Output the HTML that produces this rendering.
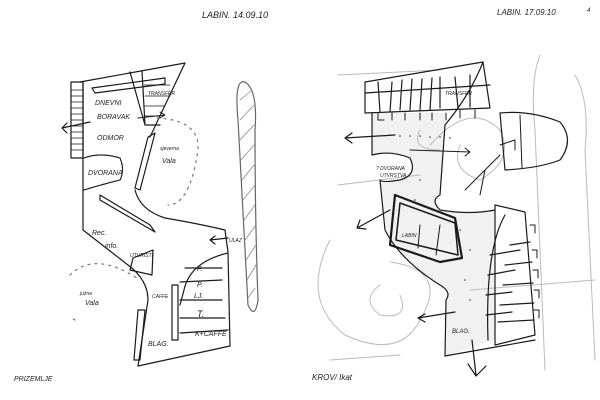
<!DOCTYPE html>
<html><head><meta charset="utf-8"><style>
html,body{margin:0;padding:0;background:#fff;}
svg{display:block;}
text{font-family:"Liberation Sans",sans-serif;font-style:italic;fill:#222;}
</style></head><body>
<svg width="600" height="400" viewBox="0 0 600 400" xmlns="http://www.w3.org/2000/svg">
<path d="M372 113 L445 113 L445 125 L440 195 Q430 200 440 210 Q470 215 495 210 L495 340 L446 356 L446 300 Q452 292 440 285 Q400 260 385 230 L380 180 Q382 183 400 180 Q418 175 410 158 Q390 150 372 155 Z" fill="#f1f1f1" stroke="none"/>
<g fill="none" stroke="#1a1a1a" stroke-width="1.2" stroke-linecap="round" stroke-linejoin="round">
<!-- LEFT SKETCH -->
<path d="M80 82 L185 63 L150 137"/>
<path d="M83 83 L83 230 L128 265 Q148 280 148 300 L138 366 L230 346 L228 253 Q190 262 184 290 L180 305"/>
<path d="M135 190 Q140 210 165 218 Q200 224 225 230 L228 252"/>
<path d="M148 137 L155 133 L140 190 L135 188 Z"/>
<rect x="71" y="82" width="12" height="76"/>
<path d="M71 90h12M71 96h12M71 102h12M71 108h12M71 114h12M71 120h12M71 126h12M71 132h12M71 138h12M71 144h12M71 150h12" stroke-width="0.8"/>
<path d="M92 88 L165 78 L165 84 L95 93 Z"/>
<path d="M130 72 L145 125 M142 71 L145 125 L160 125"/>
<path d="M144 85 L170 85 M145 96 L170 96 M145 106 L165 106 M145 116 L160 116" stroke-width="0.8"/>
<path d="M84 158 Q100 152 120 158 Q125 170 120 180 Q100 185 84 190" stroke-dasharray="2 1"/>
<path d="M100 195 L150 225 L155 232 L100 200 Z"/>
<path d="M133 258 L153 250 L152 275 L130 270 Z"/>
<path d="M185 268 L222 268 M180 282 L222 280 M180 300 L222 300 M180 318 L225 318 M180 333 L228 330"/>
<path d="M172 285 L178 285 L178 340 L172 340 Z"/>
<path d="M138 310 L145 310 L140 360 L134 360 Z"/>
<path d="M62 128 L90 122 M62 128 L67 123 M62 128 L67 133"/>
<path d="M210 240 L228 238 M210 240 L215 236 M210 240 L215 244"/>
<path d="M138 118 L165 115 M160 112 L165 115 L160 118" stroke-width="1"/>
<path d="M157 118 Q200 120 198 150 Q190 205 168 205" stroke="#777" stroke-dasharray="2 5"/>
<path d="M70 275 Q95 250 140 280 M75 320 L72 318" stroke="#777" stroke-dasharray="2 5"/>
<path d="M245 82 Q258 90 255 130 Q255 220 258 300 Q255 320 248 305 Q242 200 238 120 Q234 78 245 82 Z" stroke="#666"/>
<path d="M240 100 L252 90 M240 120 L254 105 M240 140 L254 125 M241 160 L254 145 M242 180 L254 165 M243 200 L255 185 M244 220 L255 205 M245 240 L256 225 M246 260 L256 245 M247 280 L256 265 M248 298 L255 288" stroke="#888" stroke-width="0.8"/>

<!-- RIGHT SKETCH -->
<g stroke="#bbb" stroke-width="1">
<path d="M338 75 L440 70 M338 185 L420 175 M330 360 L400 355 M470 290 L595 280 M330 240 Q300 300 345 335 Q400 360 420 320 Q450 270 390 262"/>
<path d="M380 285 Q360 300 380 315 Q410 320 400 295"/>
<path d="M540 55 Q530 80 535 130 Q540 250 545 370 M575 75 Q590 100 585 150 L595 360"/>
<path d="M430 145 Q470 100 500 130 Q515 160 480 180 Q450 170 460 145 M420 130 Q410 150 440 150"/>
</g>
<path d="M365 82 L483 62 L490 108 L365 113 Z"/>
<path d="M365 93 L490 85 M378 82 L380 112 M390 112 L392 82 M400 110 L402 80 M410 110 L412 79 M420 110 L422 79 M430 110 L432 78 M440 108 L440 77 M455 77 L458 108 M470 107 L470 75"/>
<path d="M378 113 L378 120 L384 120 M392 113 L392 120 M405 113 L405 120 M420 113 L420 120 M432 113 L432 120 M446 113 L446 120 M460 110 L460 118 M475 110 L475 118" stroke-width="1"/>
<path d="M372 113 L372 155 Q390 150 410 158 Q418 175 400 180 Q382 183 380 180 L385 230 Q400 260 440 285 Q452 292 446 300 L445 356 L535 340"/>
<path d="M483 62 Q470 95 445 125 L440 195 Q430 200 440 210 Q470 215 495 210"/>
<path d="M395 195 L455 218 L462 258 L440 262 L390 245 Z" stroke-width="2.2"/>
<path d="M400 203 L455 223 L458 255 L396 240 Z" stroke-width="1.5"/>
<path d="M420 225 L418 248 M440 225 L436 255" stroke-width="1"/>
<path d="M495 205 L525 212 L535 335 L495 345 Z"/>
<path d="M505 215 Q485 250 488 340 M510 245 L530 242 M505 265 L532 262 M503 285 L533 283 M500 305 L534 303 M498 322 L534 320 M490 255 L520 250 M488 275 L515 270 M486 295 L512 292 M486 315 L512 312"/>
<path d="M530 225 h5v8 M532 250 h5v8 M533 270 h5v8 M534 290 h5v8 M534 310 h5v8" stroke-width="1"/>
<path d="M500 113 Q530 110 560 122 Q575 140 560 160 Q540 168 505 170 Z"/>
<path d="M520 115 L522 168 M500 145 L515 140 L515 150" stroke-width="1"/>
<path d="M345 138 L395 135 M345 138 L352 133 M345 138 L352 143"/>
<path d="M357 228 L390 210 M357 228 L360 220 M357 228 L366 229"/>
<path d="M418 318 L455 312 M418 318 L425 314 M418 318 L425 322"/>
<path d="M472 340 L476 375 M468 364 L476 376 L486 366"/>
<path d="M410 150 L470 152 M465 148 L470 152 L465 156" stroke-width="1"/>
<path d="M465 190 L500 155 M480 195 L485 170 L470 185" stroke-width="1"/>
</g>
<g fill="#333">
<circle cx="390" cy="135" r="0.8"/><circle cx="400" cy="136" r="0.8"/><circle cx="410" cy="136" r="0.8"/><circle cx="420" cy="136" r="0.8"/><circle cx="430" cy="137" r="0.8"/><circle cx="440" cy="137" r="0.8"/><circle cx="450" cy="138" r="0.8"/>
<circle cx="420" cy="180" r="0.8"/><circle cx="415" cy="200" r="0.8"/><circle cx="460" cy="230" r="0.8"/><circle cx="470" cy="250" r="0.8"/><circle cx="465" cy="280" r="0.8"/><circle cx="470" cy="300" r="0.8"/>
</g>
<g font-size="7">
<text x="202" y="18" font-size="9">LABIN. 14.09.10</text>
<text x="497" y="15" font-size="8">LABIN. 17.09.10</text>
<text x="95" y="105">DNEVNI</text>
<text x="97" y="119">BORAVAK</text>
<text x="97" y="140">ODMOR</text>
<text x="88" y="175">DVORANA</text>
<text x="162" y="163">Vala</text>
<text x="160" y="150" font-size="5">sjeverna</text>
<text x="148" y="95" font-size="5">TRANSFER</text>
<text x="92" y="235">Rec.</text>
<text x="105" y="248">info.</text>
<text x="130" y="257" font-size="5">UTURISTI</text>
<text x="80" y="295" font-size="5">južna</text>
<text x="85" y="305">Vala</text>
<text x="152" y="298" font-size="5">CAFFE</text>
<text x="197" y="271">F.</text>
<text x="197" y="287">P.</text>
<text x="194" y="298">LJ.</text>
<text x="197" y="317" font-size="9">T.</text>
<text x="195" y="336">K+CAFFE</text>
<text x="148" y="346">BLAG.</text>
<text x="229" y="242" font-size="5">ULAZ</text>
<text x="14" y="381">PRIZEMLJE</text>
<text x="312" y="380" font-size="8">KROV/ Ikat</text>
<text x="452" y="333" font-size="6">BLAG.</text>
<text x="376" y="170" font-size="5">? DVORANA</text>
<text x="380" y="177" font-size="5">UTVRSTVA</text>
<text x="402" y="237" font-size="5">LABIN</text>
<text x="445" y="95" font-size="5">TRANSFER</text>
</g>
<text x="587" y="12" font-size="6">4</text>
</svg>
</body></html>
